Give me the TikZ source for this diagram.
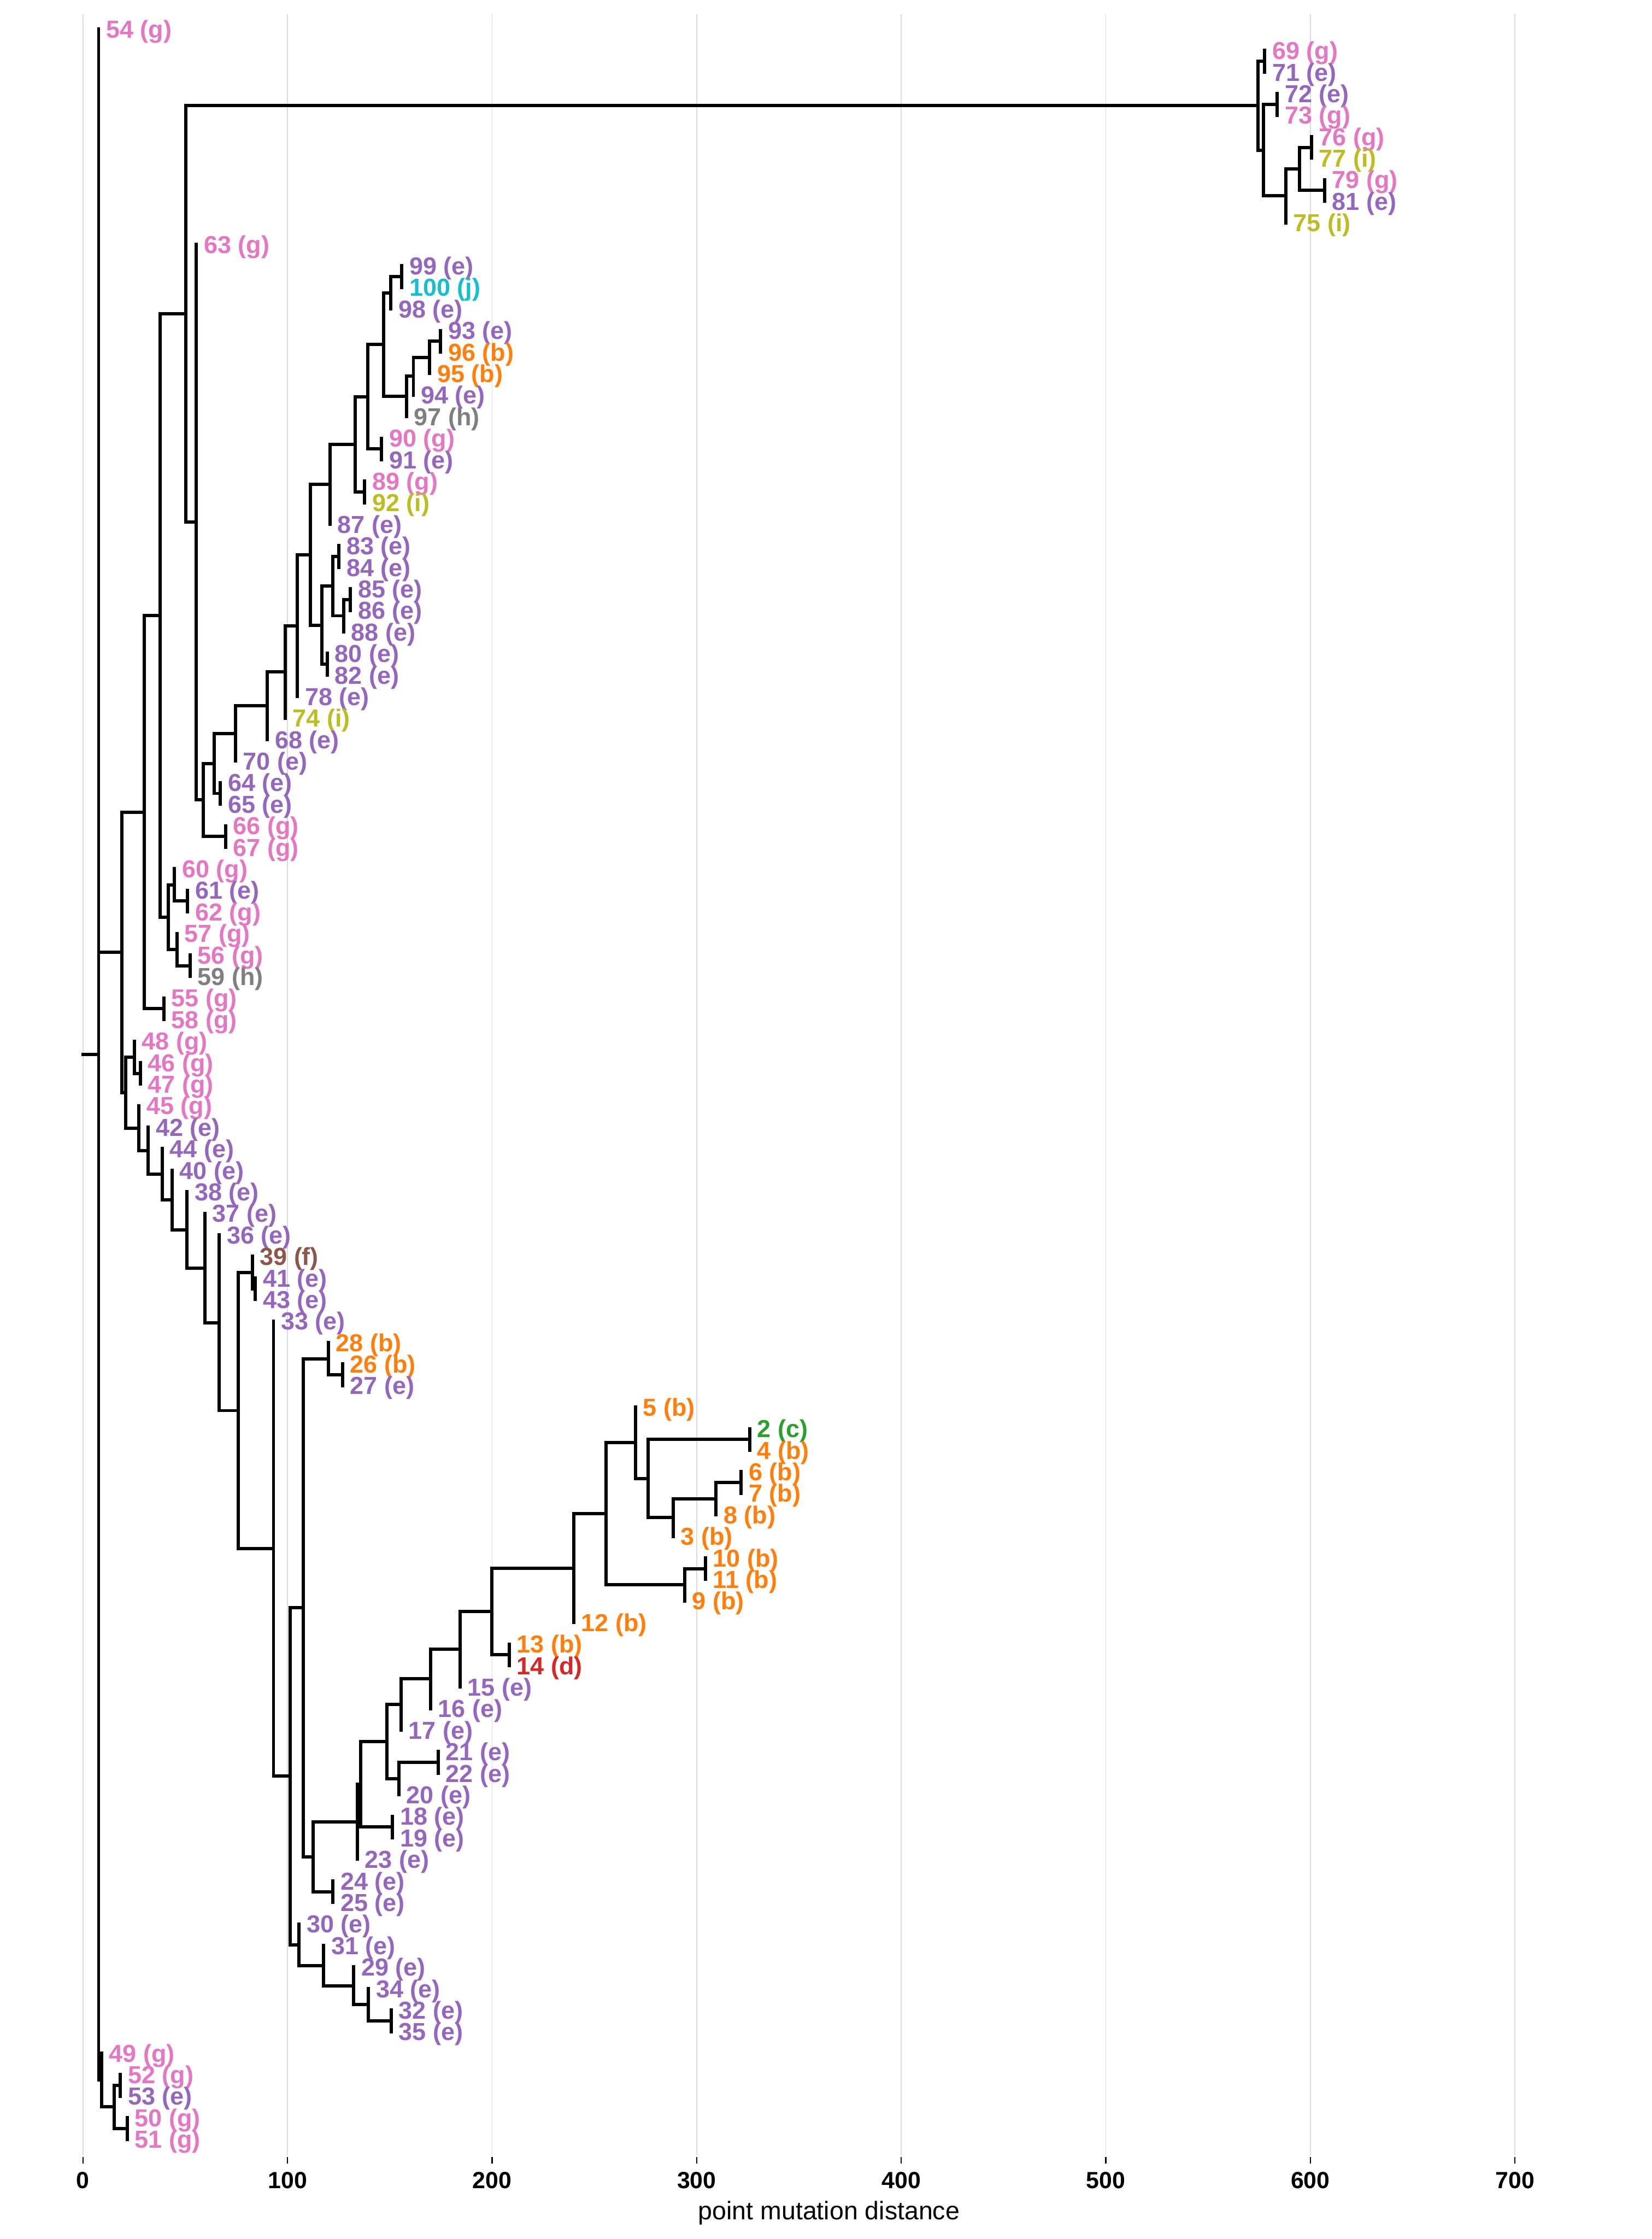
\documentclass[tikz,border=0pt]{standalone}
\usepackage{fontspec}
\setmainfont{Liberation Sans}
\definecolor{cg}{HTML}{E377C2}
\definecolor{ce}{HTML}{9467BD}
\definecolor{cb}{HTML}{FF7F0E}
\definecolor{cc}{HTML}{2CA02C}
\definecolor{cd}{HTML}{D62728}
\definecolor{cf}{HTML}{8C564B}
\definecolor{ch}{HTML}{7F7F7F}
\definecolor{ci}{HTML}{BCBD22}
\definecolor{cj}{HTML}{17BECF}
\newcommand\rowy[1]{20.3+15.08*(#1)}
\newcommand\tnode[3]{\coordinate (#1) at (#2,{\rowy{#3}});}
\newcommand\tleaf[4]{\coordinate (L#1) at (#3,{\rowy{#4}});\node[lab,text=c#2] (T#1) at (L#1) {#1 (#2)};}
\newcommand\tin[2]{\foreach \kid in {#2} {\draw[tree] (#1) |- (\kid);}}
\newcommand\tlv[2]{\foreach \kid in {#2} {\draw[tree] (#1) -- (\kid);}}
\begin{document}
\begin{tikzpicture}[x=0.03cm,y=-0.03cm,
  tree/.style={line width=1.95pt,line cap=rect,line join=miter,black},
  lab/.style={anchor=base west,inner sep=0pt,outer sep=0pt,xshift=0.16cm,yshift=-0.186cm,font=\bfseries\fontsize{14.7}{16}\selectfont},
  gridln/.style={line width=0.6pt,black!14},
  tickln/.style={line width=0.8pt,black},
  ticklab/.style={anchor=base,inner sep=0pt,font=\bfseries\fontsize{14.0}{15}\selectfont},
  axtitle/.style={anchor=base,inner sep=0pt,font=\fontsize{15.2}{17}\selectfont}]
\useasboundingbox[fill=white] (0,0) rectangle (1157,1568);
% grid and axis
\foreach \v [count=\k from 0] in {0,100,200,300,400,500,600,700} {
  \coordinate (gt\k) at ({58.1+1.433*\v},10);
  \coordinate (gb\k) at ({58.1+1.433*\v},1509.3);
  \coordinate (tk\k) at ({58.1+1.433*\v},1515);
  \draw[gridln] (gt\k) -- (gb\k);
  \draw[tickln] ({58.1+1.433*\v},1510.5) -- (tk\k);
  \node[ticklab] (tl\k) at ({58.1+1.433*\v},1532.6) {\v};
}
\node[axtitle] (xtitle) at (580.7,1554.3) {point mutation distance};
% internal nodes
\tnode{R}{58.1}{47.625}
\tnode{A}{69.1}{47.625}
\tnode{B}{71.1}{95.25}
\tnode{N80}{80.0}{96.5}
\tnode{n5253}{84.3}{95.5}
\tnode{n5051}{89.2}{97.5}
\tnode{C}{85.4}{42.885}
\tnode{E}{101.1}{36.37}
\tnode{n5558}{114.7}{45.5}
\tnode{F}{112.3}{27.241}
\tnode{H}{117.9}{41.25}
\tnode{N122}{122.2}{39.75}
\tnode{n6162}{131.4}{40.5}
\tnode{N124}{123.9}{42.75}
\tnode{n5659}{133.1}{43.5}
\tnode{G}{130.2}{13.232}
\tnode{T}{881.3}{3.5625}
\tnode{n6971}{885.9}{1.5}
\tnode{U}{885.1}{5.625}
\tnode{n7273}{894.8}{3.5}
\tnode{V}{900.6}{7.75}
\tnode{W}{910.3}{6.5}
\tnode{n7677}{918.7}{5.5}
\tnode{n7981}{927.9}{7.5}
\tnode{P137}{137.6}{22.902}
\tnode{Q142}{142.4}{35.803}
\tnode{n6667}{158.0}{37.5}
\tnode{N150}{150.0}{34.107}
\tnode{n6465}{154.4}{35.5}
\tnode{N164}{165.0}{32.713}
\tnode{N187}{187.3}{31.427}
\tnode{N199}{199.7}{29.854}
\tnode{N208}{208.3}{27.708}
\tnode{N217}{217.6}{24.416}
\tnode{N231}{231.2}{21.145}
\tnode{N249}{248.9}{19.289}
\tnode{n8992}{255.4}{21.5}
\tnode{N257}{257.6}{17.078}
\tnode{n9091}{267.3}{19.5}
\tnode{N269}{268.9}{14.656}
\tnode{N273}{273.8}{12.25}
\tnode{n99100}{281.5}{11.5}
\tnode{N284}{284.7}{17.0625}
\tnode{N289}{289.6}{16.125}
\tnode{N300}{301.0}{15.25}
\tnode{n9396}{308.6}{14.5}
\tnode{N225}{225.5}{27.6875}
\tnode{n8082}{229.3}{29.5}
\tnode{N232}{233.1}{25.875}
\tnode{n8384}{237.4}{24.5}
\tnode{N240}{240.7}{27.25}
\tnode{n8586}{245.5}{26.5}
\tnode{D}{88.0}{49.4}
\tnode{N94}{94.1}{47.75}
\tnode{n4647}{98.4}{48.5}
\tnode{N97}{97.4}{51.05}
\tnode{N103}{103.8}{52.1}
\tnode{N113}{113.6}{53.19}
\tnode{N120}{120.6}{54.385}
\tnode{N131}{131.1}{55.77}
\tnode{N143}{143.5}{57.54}
\tnode{N154}{153.6}{60.08}
\tnode{N167}{166.9}{64.16}
\tnode{N177}{176.7}{57.75}
\tnode{n4143}{178.8}{58.5}
\tnode{N192}{191.6}{70.571}
\tnode{N204}{203.4}{81.142}
\tnode{N212}{212.3}{73.315}
\tnode{N230}{230.0}{61.75}
\tnode{n2627}{239.9}{62.5}
\tnode{N219}{219.4}{84.879}
\tnode{n2425}{233.3}{86.5}
\tnode{N250}{250.3}{83.258}
\tnode{N253}{252.8}{81.515}
\tnode{n1819}{274.9}{83.5}
\tnode{N271}{271.0}{79.53}
\tnode{N281}{281.0}{77.811}
\tnode{N279}{279.4}{81.25}
\tnode{n2122}{307.0}{80.5}
\tnode{N301}{301.6}{76.622}
\tnode{N322}{322.3}{75.244}
\tnode{N345}{344.5}{73.488}
\tnode{n1314}{356.7}{75.5}
\tnode{N402}{401.9}{71.477}
\tnode{N425}{424.6}{68.953}
\tnode{N445}{445.1}{65.656}
\tnode{N454}{453.9}{67.3125}
\tnode{n24}{525.1}{65.5}
\tnode{N472}{471.5}{69.125}
\tnode{N501}{501.6}{68.25}
\tnode{n67}{519.2}{67.5}
\tnode{N480}{479.6}{72.25}
\tnode{n1011}{494.2}{71.5}
\tnode{N210}{209.5}{88.969}
\tnode{N226}{226.8}{89.9375}
\tnode{N247}{247.8}{90.875}
\tnode{N258}{258.1}{91.75}
\tnode{n3235}{274.0}{92.5}
% leaves with labels
\tleaf{54}{g}{69.1}{0}
\tleaf{69}{g}{885.9}{1}
\tleaf{71}{e}{885.9}{2}
\tleaf{72}{e}{894.8}{3}
\tleaf{73}{g}{894.8}{4}
\tleaf{76}{g}{918.7}{5}
\tleaf{77}{i}{918.7}{6}
\tleaf{79}{g}{927.9}{7}
\tleaf{81}{e}{927.9}{8}
\tleaf{75}{i}{900.6}{9}
\tleaf{63}{g}{137.6}{10}
\tleaf{99}{e}{281.5}{11}
\tleaf{100}{j}{281.5}{12}
\tleaf{98}{e}{273.8}{13}
\tleaf{93}{e}{308.6}{14}
\tleaf{96}{b}{308.6}{15}
\tleaf{95}{b}{301.0}{16}
\tleaf{94}{e}{289.6}{17}
\tleaf{97}{h}{284.7}{18}
\tleaf{90}{g}{267.3}{19}
\tleaf{91}{e}{267.3}{20}
\tleaf{89}{g}{255.4}{21}
\tleaf{92}{i}{255.4}{22}
\tleaf{87}{e}{231.2}{23}
\tleaf{83}{e}{237.4}{24}
\tleaf{84}{e}{237.4}{25}
\tleaf{85}{e}{245.5}{26}
\tleaf{86}{e}{245.5}{27}
\tleaf{88}{e}{240.7}{28}
\tleaf{80}{e}{229.3}{29}
\tleaf{82}{e}{229.3}{30}
\tleaf{78}{e}{208.3}{31}
\tleaf{74}{i}{199.7}{32}
\tleaf{68}{e}{187.3}{33}
\tleaf{70}{e}{165.0}{34}
\tleaf{64}{e}{154.4}{35}
\tleaf{65}{e}{154.4}{36}
\tleaf{66}{g}{158.0}{37}
\tleaf{67}{g}{158.0}{38}
\tleaf{60}{g}{122.2}{39}
\tleaf{61}{e}{131.4}{40}
\tleaf{62}{g}{131.4}{41}
\tleaf{57}{g}{123.9}{42}
\tleaf{56}{g}{133.1}{43}
\tleaf{59}{h}{133.1}{44}
\tleaf{55}{g}{114.7}{45}
\tleaf{58}{g}{114.7}{46}
\tleaf{48}{g}{94.1}{47}
\tleaf{46}{g}{98.4}{48}
\tleaf{47}{g}{98.4}{49}
\tleaf{45}{g}{97.4}{50}
\tleaf{42}{e}{103.8}{51}
\tleaf{44}{e}{113.6}{52}
\tleaf{40}{e}{120.6}{53}
\tleaf{38}{e}{131.1}{54}
\tleaf{37}{e}{143.5}{55}
\tleaf{36}{e}{153.6}{56}
\tleaf{39}{f}{176.7}{57}
\tleaf{41}{e}{178.8}{58}
\tleaf{43}{e}{178.8}{59}
\tleaf{33}{e}{191.6}{60}
\tleaf{28}{b}{230.0}{61}
\tleaf{26}{b}{239.9}{62}
\tleaf{27}{e}{239.9}{63}
\tleaf{5}{b}{445.1}{64}
\tleaf{2}{c}{525.1}{65}
\tleaf{4}{b}{525.1}{66}
\tleaf{6}{b}{519.2}{67}
\tleaf{7}{b}{519.2}{68}
\tleaf{8}{b}{501.6}{69}
\tleaf{3}{b}{471.5}{70}
\tleaf{10}{b}{494.2}{71}
\tleaf{11}{b}{494.2}{72}
\tleaf{9}{b}{479.6}{73}
\tleaf{12}{b}{401.9}{74}
\tleaf{13}{b}{356.7}{75}
\tleaf{14}{d}{356.7}{76}
\tleaf{15}{e}{322.3}{77}
\tleaf{16}{e}{301.6}{78}
\tleaf{17}{e}{281.0}{79}
\tleaf{21}{e}{307.0}{80}
\tleaf{22}{e}{307.0}{81}
\tleaf{20}{e}{279.4}{82}
\tleaf{18}{e}{274.9}{83}
\tleaf{19}{e}{274.9}{84}
\tleaf{23}{e}{250.3}{85}
\tleaf{24}{e}{233.3}{86}
\tleaf{25}{e}{233.3}{87}
\tleaf{30}{e}{209.5}{88}
\tleaf{31}{e}{226.8}{89}
\tleaf{29}{e}{247.8}{90}
\tleaf{34}{e}{258.1}{91}
\tleaf{32}{e}{274.0}{92}
\tleaf{35}{e}{274.0}{93}
\tleaf{49}{g}{71.1}{94}
\tleaf{52}{g}{84.3}{95}
\tleaf{53}{e}{84.3}{96}
\tleaf{50}{g}{89.2}{97}
\tleaf{51}{g}{89.2}{98}
% branches
\draw[tree] (R) -- (A);
\tin{A}{C,B}\tlv{A}{L54}
\tin{B}{N80}\tlv{B}{L49}
\tin{N80}{n5253,n5051}
\tlv{n5253}{L52,L53}
\tlv{n5051}{L50,L51}
\tin{C}{E,D}
\tin{E}{F,n5558}
\tlv{n5558}{L55,L58}
\tin{F}{G,H}
\tin{H}{N122,N124}
\tin{N122}{n6162}\tlv{N122}{L60}
\tlv{n6162}{L61,L62}
\tin{N124}{n5659}\tlv{N124}{L57}
\tlv{n5659}{L56,L59}
\tin{G}{T,P137}
\tin{T}{n6971,U}
\tlv{n6971}{L69,L71}
\tin{U}{n7273,V}
\tlv{n7273}{L72,L73}
\tin{V}{W}\tlv{V}{L75}
\tin{W}{n7677,n7981}
\tlv{n7677}{L76,L77}
\tlv{n7981}{L79,L81}
\tin{P137}{Q142}\tlv{P137}{L63}
\tin{Q142}{N150,n6667}
\tlv{n6667}{L66,L67}
\tin{N150}{N164,n6465}
\tlv{n6465}{L64,L65}
\tin{N164}{N187}\tlv{N164}{L70}
\tin{N187}{N199}\tlv{N187}{L68}
\tin{N199}{N208}\tlv{N199}{L74}
\tin{N208}{N217}\tlv{N208}{L78}
\tin{N217}{N231,N225}
\tin{N231}{N249}\tlv{N231}{L87}
\tin{N249}{N257,n8992}
\tlv{n8992}{L89,L92}
\tin{N257}{N269,n9091}
\tlv{n9091}{L90,L91}
\tin{N269}{N273,N284}
\tin{N273}{n99100}\tlv{N273}{L98}
\tlv{n99100}{L99,L100}
\tin{N284}{N289}\tlv{N284}{L97}
\tin{N289}{N300}\tlv{N289}{L94}
\tin{N300}{n9396}\tlv{N300}{L95}
\tlv{n9396}{L93,L96}
\tin{N225}{N232,n8082}
\tlv{n8082}{L80,L82}
\tin{N232}{n8384,N240}
\tlv{n8384}{L83,L84}
\tin{N240}{n8586}\tlv{N240}{L88}
\tlv{n8586}{L85,L86}
\tin{D}{N94,N97}
\tin{N94}{n4647}\tlv{N94}{L48}
\tlv{n4647}{L46,L47}
\tin{N97}{N103}\tlv{N97}{L45}
\tin{N103}{N113}\tlv{N103}{L42}
\tin{N113}{N120}\tlv{N113}{L44}
\tin{N120}{N131}\tlv{N120}{L40}
\tin{N131}{N143}\tlv{N131}{L38}
\tin{N143}{N154}\tlv{N143}{L37}
\tin{N154}{N167}\tlv{N154}{L36}
\tin{N167}{N177,N192}
\tin{N177}{n4143}\tlv{N177}{L39}
\tlv{n4143}{L41,L43}
\tin{N192}{N204}\tlv{N192}{L33}
\tin{N204}{N212,N210}
\tin{N212}{N230,N219}
\tin{N230}{n2627}\tlv{N230}{L28}
\tlv{n2627}{L26,L27}
\tin{N219}{N250,n2425}
\tlv{n2425}{L24,L25}
\tin{N250}{N253}\tlv{N250}{L23}
\tin{N253}{N271,n1819}
\tlv{n1819}{L18,L19}
\tin{N271}{N281,N279}
\tin{N281}{N301}\tlv{N281}{L17}
\tin{N279}{n2122}\tlv{N279}{L20}
\tlv{n2122}{L21,L22}
\tin{N301}{N322}\tlv{N301}{L16}
\tin{N322}{N345}\tlv{N322}{L15}
\tin{N345}{N402,n1314}
\tlv{n1314}{L13,L14}
\tin{N402}{N425}\tlv{N402}{L12}
\tin{N425}{N445,N480}
\tin{N445}{N454}\tlv{N445}{L5}
\tin{N454}{n24,N472}
\tlv{n24}{L2,L4}
\tin{N472}{N501}\tlv{N472}{L3}
\tin{N501}{n67}\tlv{N501}{L8}
\tlv{n67}{L6,L7}
\tin{N480}{n1011}\tlv{N480}{L9}
\tlv{n1011}{L10,L11}
\tin{N210}{N226}\tlv{N210}{L30}
\tin{N226}{N247}\tlv{N226}{L31}
\tin{N247}{N258}\tlv{N247}{L29}
\tin{N258}{n3235}\tlv{N258}{L34}
\tlv{n3235}{L32,L35}
\end{tikzpicture}
\end{document}
